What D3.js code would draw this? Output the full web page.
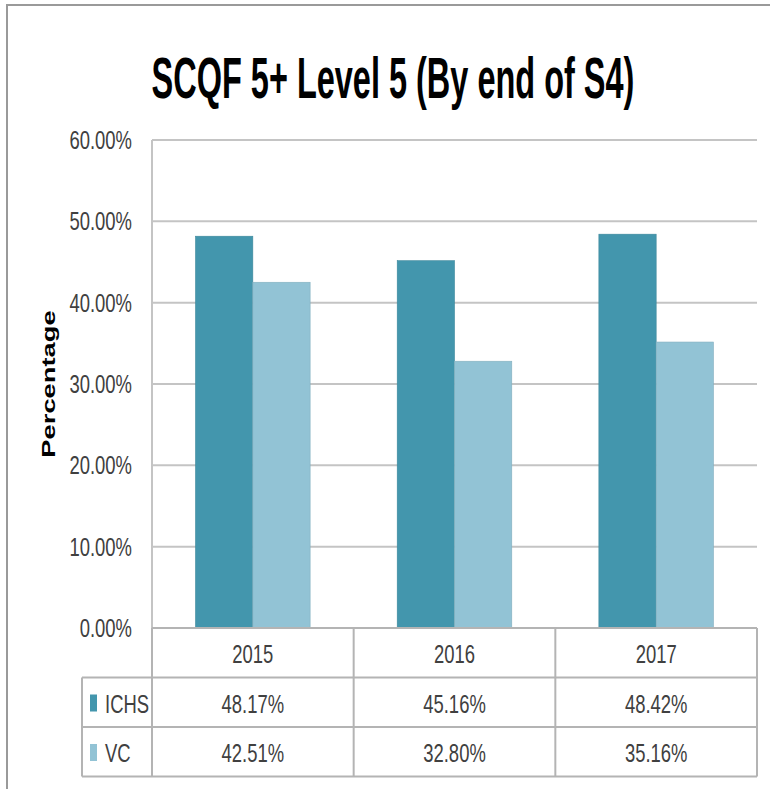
<!DOCTYPE html>
<html>
<head>
<meta charset="utf-8">
<script src="https://cdn.jsdelivr.net/npm/d3@7"></script>
<style>
  body { margin: 0; background: #fff; }
  svg { display: block; }
  text { font-family: "Liberation Sans", Arial, sans-serif; fill: #404040; }
</style>
</head>
<body>
<svg id="chart" width="770" height="789"></svg>
<script>
// chart data
const years = ['2015', '2016', '2017'];
const seriesNames = ['ICHS', 'VC'];
const ichs = [48.17, 45.16, 48.42];
const vc = [42.51, 32.80, 35.16];
const yTicks = [0, 10, 20, 30, 40, 50, 60];
const colors = ['#4396ad', '#92c3d5'];

const svg = d3.select('#chart');

// plot area
const plotLeft = 152, plotRight = 757, plotTop = 140, plotBottom = 628;
const rowH = 49.5;

// outer frame (cut off at right and bottom like the screenshot)
svg.append('rect')
  .attr('x', 7).attr('y', 5)
  .attr('width', 800).attr('height', 800)
  .attr('fill', 'none')
  .attr('stroke', '#9a9a9a')
  .attr('stroke-width', 2);

// text helper: narrow glyphs via horizontal scale
function label(parent, str, x, y, opts) {
  const o = Object.assign({ size: 26, sx: 0.71, sy: 1, anchor: 'middle', weight: 'normal', rotate: 0, fill: '#404040' }, opts);
  return parent.append('text')
    .attr('transform', `translate(${x},${y}) rotate(${o.rotate}) scale(${o.sx},${o.sy})`)
    .attr('text-anchor', o.anchor)
    .attr('font-size', o.size)
    .attr('font-weight', o.weight)
    .style('fill', o.fill)
    .text(str);
}

const x = d3.scaleBand()
  .domain(years)
  .range([plotLeft, plotRight]);

const xs = d3.scaleBand()
  .domain(seriesNames)
  .range([0, x.bandwidth()])
  .paddingOuter(0.76);

const y = d3.scaleLinear()
  .domain([0, 60])
  .range([plotBottom, plotTop]);

// gridlines
svg.append('g')
  .selectAll('line')
  .data(yTicks)
  .enter().append('line')
  .attr('x1', plotLeft).attr('x2', plotRight)
  .attr('y1', d => y(d)).attr('y2', d => y(d))
  .attr('stroke', '#c4c4c4')
  .attr('stroke-width', 2);

// y axis line
svg.append('line')
  .attr('x1', plotLeft).attr('x2', plotLeft)
  .attr('y1', plotTop).attr('y2', plotBottom)
  .attr('stroke', '#c4c4c4')
  .attr('stroke-width', 2);

// tick labels
yTicks.forEach(t => {
  label(svg, t.toFixed(2) + '%', 132, y(t) + 9, { anchor: 'end', size: 26 });
});

// bars
const series = [ichs, vc];
seriesNames.forEach((name, si) => {
  svg.append('g')
    .selectAll('rect')
    .data(years)
    .enter().append('rect')
    .attr('x', d => x(d) + xs(name))
    .attr('width', xs.bandwidth())
    .attr('y', (d, i) => y(series[si][i]))
    .attr('height', (d, i) => y(0) - y(series[si][i]))
    .attr('fill', colors[si])
    .attr('stroke', d3.rgb(colors[si]).darker(0.3))
    .attr('stroke-width', 0.6);
});

// data table
const grid = svg.append('g')
  .attr('stroke', '#b4b4b4')
  .attr('stroke-width', 2)
  .attr('fill', 'none');

const tLeft = 82;
const rows = [plotBottom, plotBottom + rowH, plotBottom + 2 * rowH, plotBottom + 3 * rowH];

// horizontal lines of table
grid.append('line').attr('x1', plotLeft).attr('x2', plotRight).attr('y1', rows[0]).attr('y2', rows[0]);
[1, 2, 3].forEach(i => {
  grid.append('line').attr('x1', tLeft).attr('x2', plotRight).attr('y1', rows[i]).attr('y2', rows[i]);
});
// vertical lines
grid.append('line').attr('x1', tLeft).attr('x2', tLeft).attr('y1', rows[1]).attr('y2', rows[3]);
[plotLeft, ...years.map(yr => x(yr) + x.bandwidth())].forEach(xv => {
  grid.append('line').attr('x1', xv).attr('x2', xv).attr('y1', rows[0]).attr('y2', rows[3]);
});

// header row
years.forEach(yr => {
  label(svg, yr, x(yr) + x.bandwidth() / 2, rows[0] + 35, { size: 26 });
});

// value rows with legend keys
series.forEach((vals, si) => {
  const rowTop = rows[si + 1];
  svg.append('rect')
    .attr('x', 90).attr('y', rowTop + 17)
    .attr('width', 7).attr('height', 17)
    .attr('fill', colors[si]);
  label(svg, seriesNames[si], 105, rowTop + 35, { anchor: 'start', size: 26 });
  vals.forEach((v, i) => {
    label(svg, v.toFixed(2) + '%', x(years[i]) + x.bandwidth() / 2, rowTop + 35, { size: 26 });
  });
});

// title
label(svg, 'SCQF 5+ Level 5 (By end of S4)', 393, 98, { size: 57, sx: 0.57, weight: 'bold', fill: '#000' });

// y axis title
label(svg, 'Percentage', 55, 384, { size: 18, sx: 1.52, weight: 'bold', rotate: -90, fill: '#000' });
</script>
</body>
</html>
